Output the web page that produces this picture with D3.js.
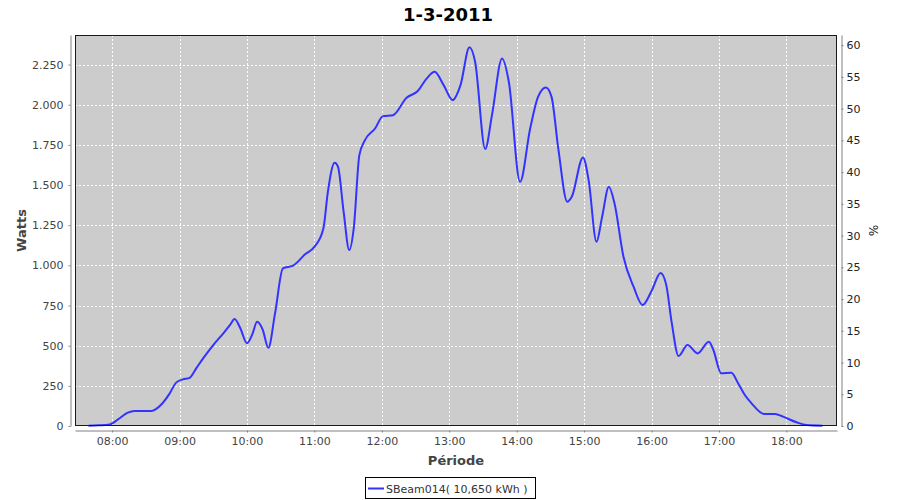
<!DOCTYPE html>
<html>
<head>
<meta charset="utf-8">
<script src="https://cdn.jsdelivr.net/npm/d3@7"></script>
<style>
html,body{margin:0;padding:0;background:#fff;}
svg{display:block;font-family:"DejaVu Sans",sans-serif;}
</style>
</head>
<body>
<svg id="chart" width="900" height="500"></svg>
<script>
const title = "1-3-2011";
const seriesName = "SBeam014( 10,650 kWh )";
const times = ["07:39","07:48","07:58","08:01","08:07","08:14","08:20","08:35","08:44","08:51","08:57","09:03","09:09","09:15","09:21","09:30","09:39","09:45","09:49","09:54","10:00","10:05","10:09","10:14","10:19","10:25","10:32","10:41","10:52","11:00","11:08","11:12","11:18","11:21","11:26","11:31","11:35","11:40","11:45","11:54","12:01","12:10","12:22","12:32","12:40","12:47","12:55","13:03","13:10","13:18","13:23","13:32","13:38","13:47","13:53","14:03","14:12","14:19","14:26","14:31","14:37","14:45","14:49","14:59","15:04","15:11","15:16","15:22","15:27","15:35","15:44","15:52","16:00","16:08","16:13","16:18","16:24","16:32","16:41","16:51","16:55","17:02","17:11","17:17","17:23","17:29","17:40","17:50","17:57","18:09","18:18","18:32"];
const watts = [2,4,10,20,50,83,93,93,135,200,270,290,300,360,421,504,577,630,666,610,515,575,649,600,487,701,981,998,1070,1115,1230,1458,1638,1614,1334,1095,1230,1686,1780,1852,1929,1935,2043,2085,2164,2205,2122,2029,2122,2357,2267,1724,1935,2288,2143,1520,1852,2049,2107,2049,1728,1396,1427,1672,1531,1147,1302,1489,1386,1054,867,753,840,952,880,640,436,504,452,525,473,328,332,266,193,141,75,75,58,23,6,2];
const xTickLabels = ["08:00","09:00","10:00","11:00","12:00","13:00","14:00","15:00","16:00","17:00","18:00"];
const yTickValues = [0,250,500,750,1000,1250,1500,1750,2000,2250];
const yTickLabels = ["0","250","500","750","1.000","1.250","1.500","1.750","2.000","2.250"];
const pctTickValues = [0,5,10,15,20,25,30,35,40,45,50,55,60];
const xDomain = ["07:27","18:45"];
const yMax = 2434;
const pctMax = 61.6;

const toMin = s => { const [h,m] = s.split(":").map(Number); return h*60+m; };
const data = times.map((t,i)=>({x:toMin(t), y:watts[i]}));

const L=75, R=837, T=35, B=426;
const svg = d3.select("#chart");
const x = d3.scaleLinear().domain(xDomain.map(toMin)).range([L,R]);
const y = d3.scaleLinear().domain([0,yMax]).range([B,T]);
const yp = d3.scaleLinear().domain([0,pctMax]).range([B,T]);

// title
svg.append("text").attr("x",448).attr("y",21).attr("text-anchor","middle")
  .attr("font-size",18).attr("font-weight","bold").attr("fill","#000").text(title);

// plot background
svg.append("rect").attr("x",L).attr("y",T).attr("width",R-L).attr("height",B-T).attr("fill","#cccccc");

// gridlines
const xTickVals = xTickLabels.map(toMin);
svg.append("g").selectAll("line").data(xTickVals).join("line")
  .attr("x1",d=>Math.round(x(d))+0.5).attr("x2",d=>Math.round(x(d))+0.5)
  .attr("y1",T).attr("y2",B).attr("stroke","#fff").attr("stroke-dasharray","2,2");
svg.append("g").selectAll("line").data(yTickValues.slice(1)).join("line")
  .attr("y1",d=>Math.round(y(d))+0.5).attr("y2",d=>Math.round(y(d))+0.5)
  .attr("x1",L).attr("x2",R).attr("stroke","#fff").attr("stroke-dasharray","2,2");

// line
const line = d3.line().x(d=>x(d.x)).y(d=>y(d.y)).curve(d3.curveMonotoneX);
svg.append("path").datum(data).attr("d",line).attr("fill","none")
  .attr("stroke","#3333ff").attr("stroke-width",2).attr("stroke-linejoin","round");

// plot outline
svg.append("rect").attr("x",L+0.5).attr("y",T+0.5).attr("width",R-L-1).attr("height",B-T-1)
  .attr("fill","none").attr("stroke","#1a1a1a");

// axes
const styleAxis = g => {
  g.select(".domain").attr("stroke","#808080");
  g.selectAll(".tick line").attr("stroke","#808080");
  g.selectAll(".tick text").attr("fill","#444").attr("font-size",11).attr("font-family","DejaVu Sans, sans-serif");
};
const xAxis = d3.axisBottom(x).tickValues(xTickVals).tickFormat((d,i)=>xTickLabels[i]).tickSizeInner(2).tickSizeOuter(0).tickPadding(5);
svg.append("g").attr("transform",`translate(0,${B+4.5})`).call(xAxis).call(styleAxis);

const yAxis = d3.axisLeft(y).tickValues(yTickValues).tickFormat((d,i)=>yTickLabels[i]).tickSizeInner(2).tickSizeOuter(0).tickPadding(5);
svg.append("g").attr("transform",`translate(${L-4.5},0)`).call(yAxis).call(styleAxis);

const pAxis = d3.axisRight(yp).tickValues(pctTickValues).tickFormat(d=>String(d)).tickSizeInner(2).tickSizeOuter(0).tickPadding(3);
svg.append("g").attr("transform",`translate(${R+4.5},0)`).call(pAxis).call(g=>{styleAxis(g); g.selectAll(".tick text").attr("fill","#222");});

// axis labels
svg.append("text").attr("transform",`translate(26,${(T+B)/2}) rotate(-90)`).attr("text-anchor","middle")
  .attr("font-size",13).attr("font-weight","bold").attr("fill","#444").text("Watts");
svg.append("text").attr("x",(L+R)/2).attr("y",465).attr("text-anchor","middle")
  .attr("font-size",13).attr("font-weight","bold").attr("fill","#444").text("Période");
svg.append("text").attr("transform",`translate(869,${(T+B)/2}) rotate(90)`).attr("text-anchor","middle")
  .attr("font-size",12).attr("fill","#222").text("%");

// legend
const lg = svg.append("g");
lg.append("rect").attr("x",365.5).attr("y",477.5).attr("width",170).attr("height",21).attr("fill","#fff").attr("stroke","#000");
lg.append("line").attr("x1",368).attr("x2",384).attr("y1",488.5).attr("y2",488.5).attr("stroke","#3333ff").attr("stroke-width",2);
lg.append("text").attr("x",386).attr("y",493).attr("font-size",11).attr("fill","#333").text(seriesName);
</script>
</body>
</html>
